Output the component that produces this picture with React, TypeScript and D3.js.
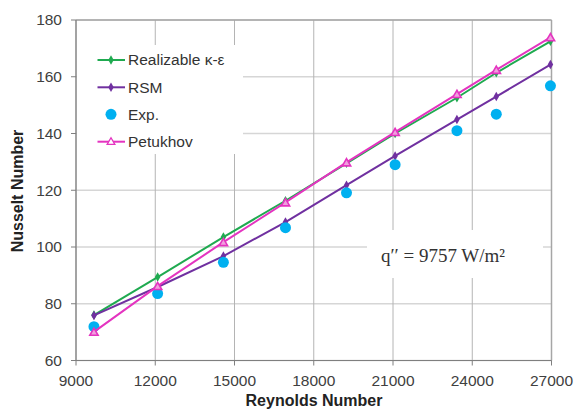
import React from "react";
import * as d3 from "d3";

const reynolds = [9680, 12090, 14580, 16930, 19240, 21080, 23420, 24910, 26960];
const realizable = [76.0, 89.4, 103.5, 116.3, 129.5, 140.0, 152.6, 161.4, 172.5];
const rsm = [75.9, 85.9, 96.8, 108.8, 121.8, 132.1, 144.9, 153.0, 164.3];
const exp = [71.9, 83.6, 94.6, 106.8, 119.1, 129.0, 141.0, 146.8, 156.8];
const petukhov = [70.1, 86.2, 101.7, 115.7, 129.8, 140.5, 153.9, 162.4, 173.9];
const xTicks = [9000, 12000, 15000, 18000, 21000, 24000, 27000];
const yTicks = [60, 80, 100, 120, 140, 160, 180];
const seriesNames = ["Realizable κ-ε", "RSM", "Exp.", "Petukhov"];

const W = 576, H = 410;
const L = 76, R = 551.5, T = 20, B = 360.5;
const FONT = "'Liberation Sans', Arial, sans-serif";

const GREEN = "#1faa50";
const PURPLE = "#7030a0";
const CYAN = "#00b0f0";
const PINK = "#e434c0";

export default function App() {
  const x = d3.scaleLinear().domain([9000, 27000]).range([L, R]);
  const y = d3.scaleLinear().domain([60, 180]).range([B, T]);
  const line = (vals: number[]) =>
    d3.line<number>().x((_, i) => x(reynolds[i])).y((v) => y(v))(vals) || "";
  const diamond = d3.symbol().type(d3.symbolDiamond).size(26)() || "";
  const tri = d3.symbol().type(d3.symbolTriangle).size(30)() || "";

  const legendY = [60, 87.3, 114.3, 141.7];

  return (
    <svg width={W} height={H} style={{ position: "absolute", left: 0, top: 0, background: "#fff" }}>
      {yTicks.map((t) => (
        <line key={"h" + t} x1={L} x2={R} y1={y(t)} y2={y(t)} stroke="#d6d6d6" strokeWidth={1.5} />
      ))}
      {xTicks.map((t) => (
        <line key={"v" + t} x1={x(t)} x2={x(t)} y1={T} y2={B} stroke="#b4b4b4" strokeWidth={1} />
      ))}
      <line x1={L} x2={R} y1={T} y2={T} stroke="#a6a6a6" strokeWidth={1.5} />
      <line x1={R} x2={R} y1={T} y2={B} stroke="#a6a6a6" strokeWidth={1.5} />
      <line x1={L} x2={L} y1={T} y2={B} stroke="#7f7f7f" strokeWidth={1.2} />
      <line x1={L - 5} x2={R} y1={B} y2={B} stroke="#7f7f7f" strokeWidth={1.2} />
      {yTicks.map((t) => (
        <g key={"yt" + t}>
          <line x1={L - 5} x2={L} y1={y(t)} y2={y(t)} stroke="#7f7f7f" strokeWidth={1} />
          <text x={L - 14} y={y(t)} dy="0.35em" textAnchor="end" fontFamily={FONT} fontSize={15.5} fill="#404040">
            {t}
          </text>
        </g>
      ))}
      {xTicks.map((t) => (
        <g key={"xt" + t}>
          <line x1={x(t)} x2={x(t)} y1={B} y2={B + 5} stroke="#7f7f7f" strokeWidth={1} />
          <text x={x(t)} y={B + 20} dy="0.35em" textAnchor="middle" fontFamily={FONT} fontSize={15.5} fill="#404040">
            {t}
          </text>
        </g>
      ))}
      <text x={314} y={406} textAnchor="middle" fontFamily={FONT} fontSize={16} fontWeight="bold" fill="#222">
        Reynolds Number
      </text>
      <text transform="translate(23,191) rotate(-90)" textAnchor="middle" fontFamily={FONT} fontSize={16} fontWeight="bold" fill="#222">
        Nusselt Number
      </text>

      <rect x={L + 1} y={45} width={166} height={109} fill="#fff" />
      <rect x={367} y={230} width={176} height={48} fill="#fff" />
      <text x={443} y={255} dy="0.35em" textAnchor="middle" fontFamily="'Liberation Serif', 'DejaVu Serif', serif" fontSize={19} fill="#333">
        q′′ = 9757 W/m²
      </text>

      <path d={line(realizable)} fill="none" stroke={GREEN} strokeWidth={2} />
      {realizable.map((v, i) => (
        <path key={"g" + i} d={diamond} transform={`translate(${x(reynolds[i])},${y(v)})`} fill={GREEN} />
      ))}
      <path d={line(rsm)} fill="none" stroke={PURPLE} strokeWidth={2} />
      {rsm.map((v, i) => (
        <path key={"p" + i} d={diamond} transform={`translate(${x(reynolds[i])},${y(v)})`} fill={PURPLE} />
      ))}
      {exp.map((v, i) => (
        <circle key={"e" + i} cx={x(reynolds[i])} cy={y(v)} r={5.5} fill={CYAN} />
      ))}
      <path d={line(petukhov)} fill="none" stroke={PINK} strokeWidth={2} />
      {petukhov.map((v, i) => (
        <path key={"k" + i} d={tri} transform={`translate(${x(reynolds[i])},${y(v) + 1})`} fill="#f0a0de" stroke={PINK} strokeWidth={1.6} />
      ))}

      {seriesNames.map((name, i) => {
        const ly = legendY[i];
        const color = [GREEN, PURPLE, CYAN, PINK][i];
        return (
          <g key={"lg" + i}>
            {i !== 2 && <line x1={97.5} x2={125} y1={ly} y2={ly} stroke={color} strokeWidth={2} />}
            {(i === 0 || i === 1) && <path d={diamond} transform={`translate(111,${ly})`} fill={color} />}
            {i === 2 && <circle cx={111} cy={ly} r={5.5} fill={CYAN} />}
            {i === 3 && (
              <path d={d3.symbol().type(d3.symbolTriangle).size(26)() || ""} transform={`translate(111,${ly + 0.5})`} fill="#fff" stroke={PINK} strokeWidth={1.3} />
            )}
            <text x={128} y={ly} dy="0.35em" fontFamily={FONT} fontSize={15.5} fill="#333">
              {name}
            </text>
          </g>
        );
      })}
    </svg>
  );
}
